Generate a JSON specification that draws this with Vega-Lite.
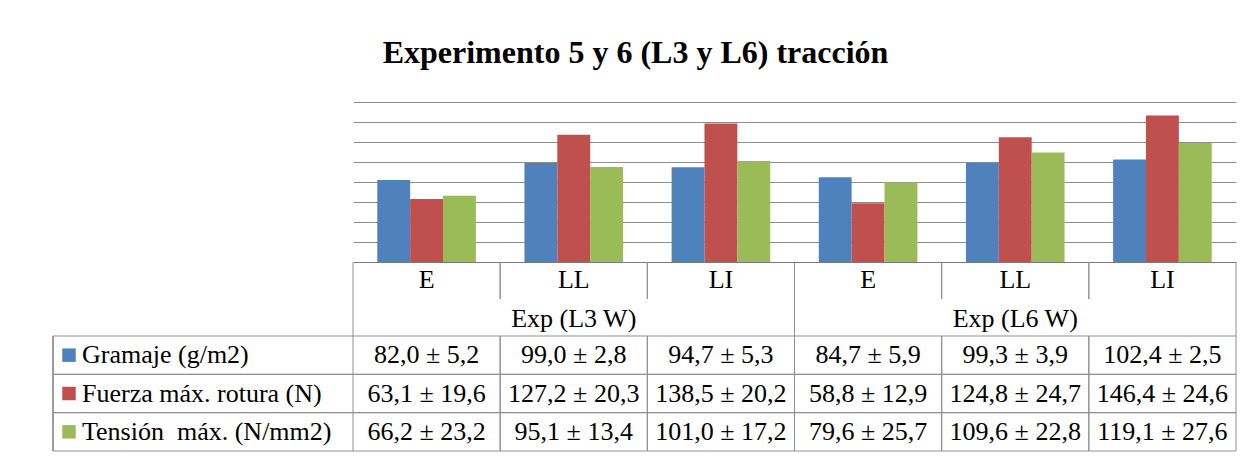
{
  "$schema": "https://vega.github.io/schema/vega-lite/v6.json",
  "background": "white",
  "padding": {"left": 52, "top": 37, "right": 20, "bottom": 4},
  "title": {
    "text": "Experimento 5 y 6 (L3 y L6) tracción",
    "font": "Liberation Serif",
    "fontSize": 32,
    "fontWeight": "bold",
    "color": "#000000",
    "anchor": "middle",
    "dx": -9,
    "offset": 32
  },
  "datasets": {
    "vals": [
      {"grupo": "Exp (L3 W)", "cat": "E", "col": "L3 W / E", "serie": "Gramaje (g/m2)", "media": 82.0, "etiqueta": "82,0 ± 5,2"},
      {"grupo": "Exp (L3 W)", "cat": "LL", "col": "L3 W / LL", "serie": "Gramaje (g/m2)", "media": 99.0, "etiqueta": "99,0 ± 2,8"},
      {"grupo": "Exp (L3 W)", "cat": "LI", "col": "L3 W / LI", "serie": "Gramaje (g/m2)", "media": 94.7, "etiqueta": "94,7 ± 5,3"},
      {"grupo": "Exp (L6 W)", "cat": "E", "col": "L6 W / E", "serie": "Gramaje (g/m2)", "media": 84.7, "etiqueta": "84,7 ± 5,9"},
      {"grupo": "Exp (L6 W)", "cat": "LL", "col": "L6 W / LL", "serie": "Gramaje (g/m2)", "media": 99.3, "etiqueta": "99,3 ± 3,9"},
      {"grupo": "Exp (L6 W)", "cat": "LI", "col": "L6 W / LI", "serie": "Gramaje (g/m2)", "media": 102.4, "etiqueta": "102,4 ± 2,5"},
      {"grupo": "Exp (L3 W)", "cat": "E", "col": "L3 W / E", "serie": "Fuerza máx. rotura (N)", "media": 63.1, "etiqueta": "63,1 ± 19,6"},
      {"grupo": "Exp (L3 W)", "cat": "LL", "col": "L3 W / LL", "serie": "Fuerza máx. rotura (N)", "media": 127.2, "etiqueta": "127,2 ± 20,3"},
      {"grupo": "Exp (L3 W)", "cat": "LI", "col": "L3 W / LI", "serie": "Fuerza máx. rotura (N)", "media": 138.5, "etiqueta": "138,5 ± 20,2"},
      {"grupo": "Exp (L6 W)", "cat": "E", "col": "L6 W / E", "serie": "Fuerza máx. rotura (N)", "media": 58.8, "etiqueta": "58,8 ± 12,9"},
      {"grupo": "Exp (L6 W)", "cat": "LL", "col": "L6 W / LL", "serie": "Fuerza máx. rotura (N)", "media": 124.8, "etiqueta": "124,8 ± 24,7"},
      {"grupo": "Exp (L6 W)", "cat": "LI", "col": "L6 W / LI", "serie": "Fuerza máx. rotura (N)", "media": 146.4, "etiqueta": "146,4 ± 24,6"},
      {"grupo": "Exp (L3 W)", "cat": "E", "col": "L3 W / E", "serie": "Tensión\u00a0 máx. (N/mm2)", "media": 66.2, "etiqueta": "66,2 ± 23,2"},
      {"grupo": "Exp (L3 W)", "cat": "LL", "col": "L3 W / LL", "serie": "Tensión\u00a0 máx. (N/mm2)", "media": 95.1, "etiqueta": "95,1 ± 13,4"},
      {"grupo": "Exp (L3 W)", "cat": "LI", "col": "L3 W / LI", "serie": "Tensión\u00a0 máx. (N/mm2)", "media": 101.0, "etiqueta": "101,0 ± 17,2"},
      {"grupo": "Exp (L6 W)", "cat": "E", "col": "L6 W / E", "serie": "Tensión\u00a0 máx. (N/mm2)", "media": 79.6, "etiqueta": "79,6 ± 25,7"},
      {"grupo": "Exp (L6 W)", "cat": "LL", "col": "L6 W / LL", "serie": "Tensión\u00a0 máx. (N/mm2)", "media": 109.6, "etiqueta": "109,6 ± 22,8"},
      {"grupo": "Exp (L6 W)", "cat": "LI", "col": "L6 W / LI", "serie": "Tensión\u00a0 máx. (N/mm2)", "media": 119.1, "etiqueta": "119,1 ± 27,6"}
    ]
  },
  "columns": 2,
  "spacing": 0,
  "bounds": "flush",
  "concat": [
    {
      "width": 300,
      "height": 160,
      "data": {"values": [{}]},
      "mark": {"type": "text", "text": ""}
    },
    {
      "width": 883,
      "height": 160,
      "data": {"name": "vals"},
      "mark": {"type": "bar"},
      "encoding": {
        "x": {"field": "col", "type": "nominal", "sort": null, "scale": {"paddingInner": 0.33, "paddingOuter": 0.165},
          "axis": {"labels": false, "ticks": false, "domain": true, "domainColor": "#7a7a7a", "domainWidth": 1, "title": null, "grid": false, "minExtent": 0, "maxExtent": 0}},
        "xOffset": {"field": "serie", "type": "nominal", "sort": ["Gramaje (g/m2)", "Fuerza máx. rotura (N)", "Tensión\u00a0 máx. (N/mm2)"], "scale": {"paddingInner": 0, "paddingOuter": 0}},
        "y": {"field": "media", "type": "quantitative", "scale": {"domain": [0, 160], "nice": false},
          "axis": {"values": [20, 40, 60, 80, 100, 120, 140, 160], "labels": false, "ticks": false, "domain": false, "grid": true, "gridColor": "#8e8e8e", "gridWidth": 1, "title": null, "minExtent": 0, "maxExtent": 0}},
        "color": {"field": "serie", "type": "nominal", "scale": {"domain": ["Gramaje (g/m2)", "Fuerza máx. rotura (N)", "Tensión\u00a0 máx. (N/mm2)"], "range": ["#4F81BD", "#C0504D", "#9BBB59"]}, "legend": null}
      }
    },
    {
      "width": 300,
      "height": 37,
      "data": {"values": [{}]},
      "mark": {"type": "text", "text": ""}
    },
    {
      "width": 883,
      "height": 37,
      "data": {"name": "vals"},
      "transform": [{"filter": "datum.serie == 'Gramaje (g/m2)'"}],
      "layer": [
        {
          "mark": {"type": "rule", "color": "#8e8e8e", "strokeWidth": 1},
          "encoding": {"x": {"field": "col", "type": "nominal", "sort": null, "bandPosition": 0, "scale": {"paddingInner": 0, "paddingOuter": 0}, "axis": null}}
        },
        {
          "mark": {"type": "rule", "color": "#8e8e8e", "strokeWidth": 1},
          "encoding": {"x": {"field": "col", "type": "nominal", "sort": null, "bandPosition": 1, "scale": {"paddingInner": 0, "paddingOuter": 0}, "axis": null}}
        },
        {
          "mark": {"type": "text", "fontSize": 26, "font": "Liberation Serif", "color": "#000000", "dy": -1},
          "encoding": {
            "x": {"field": "col", "type": "nominal", "sort": null, "scale": {"paddingInner": 0, "paddingOuter": 0}, "axis": null},
            "text": {"field": "cat"}
          }
        }
      ]
    },
    {
      "width": 300,
      "height": 37,
      "data": {"values": [{}]},
      "mark": {"type": "text", "text": ""}
    },
    {
      "width": 883,
      "height": 37,
      "data": {"name": "vals"},
      "transform": [{"filter": "datum.serie == 'Gramaje (g/m2)' && datum.cat == 'E'"}],
      "layer": [
        {
          "mark": {"type": "rule", "color": "#8e8e8e", "strokeWidth": 1},
          "encoding": {"x": {"field": "grupo", "type": "nominal", "sort": null, "bandPosition": 0, "scale": {"paddingInner": 0, "paddingOuter": 0}, "axis": null}}
        },
        {
          "mark": {"type": "rule", "color": "#8e8e8e", "strokeWidth": 1},
          "encoding": {"x": {"field": "grupo", "type": "nominal", "sort": null, "bandPosition": 1, "scale": {"paddingInner": 0, "paddingOuter": 0}, "axis": null}}
        },
        {
          "mark": {"type": "text", "fontSize": 26, "font": "Liberation Serif", "color": "#000000", "dy": 1},
          "encoding": {
            "x": {"field": "grupo", "type": "nominal", "sort": null, "scale": {"paddingInner": 0, "paddingOuter": 0}, "axis": null},
            "text": {"field": "grupo"}
          }
        }
      ]
    },
    {
      "width": 300,
      "height": 115,
      "data": {"name": "vals"},
      "transform": [{"filter": "datum.cat == 'E' && datum.grupo == 'Exp (L3 W)'"}],
      "layer": [
        {
          "mark": {"type": "rule", "color": "#8e8e8e", "strokeWidth": 1},
          "encoding": {
            "y": {"field": "serie", "type": "nominal", "sort": null, "bandPosition": 0, "scale": {"paddingInner": 0, "paddingOuter": 0}, "axis": null}
          }
        },
        {
          "mark": {"type": "rule", "color": "#8e8e8e", "strokeWidth": 1},
          "encoding": {
            "y": {"field": "serie", "type": "nominal", "sort": null, "bandPosition": 1, "scale": {"paddingInner": 0, "paddingOuter": 0}, "axis": null}
          }
        },
        {
          "mark": {"type": "rule", "color": "#8e8e8e", "strokeWidth": 1},
          "encoding": {
            "x": {"field": "grupo", "type": "nominal", "bandPosition": 0, "scale": {"paddingInner": 0, "paddingOuter": 0}, "axis": null}
          }
        },
        {
          "mark": {"type": "square", "size": 182, "opacity": 1, "filled": true, "xOffset": -134},
          "encoding": {
            "y": {"field": "serie", "type": "nominal", "sort": null, "scale": {"paddingInner": 0, "paddingOuter": 0}, "axis": null},
            "color": {"field": "serie", "type": "nominal", "scale": {"domain": ["Gramaje (g/m2)", "Fuerza máx. rotura (N)", "Tensión\u00a0 máx. (N/mm2)"], "range": ["#4F81BD", "#C0504D", "#9BBB59"]}, "legend": null}
          }
        },
        {
          "mark": {"type": "text", "align": "left", "dx": -121, "dy": 0, "fontSize": 26, "font": "Liberation Serif", "color": "#000000"},
          "encoding": {
            "y": {"field": "serie", "type": "nominal", "sort": null, "scale": {"paddingInner": 0, "paddingOuter": 0}, "axis": null},
            "text": {"field": "serie"}
          }
        }
      ]
    },
    {
      "width": 883,
      "height": 115,
      "data": {"name": "vals"},
      "layer": [
        {
          "transform": [{"filter": "datum.serie == 'Gramaje (g/m2)'"}],
          "mark": {"type": "rule", "color": "#8e8e8e", "strokeWidth": 1},
          "encoding": {"x": {"field": "col", "type": "nominal", "sort": null, "bandPosition": 0, "scale": {"paddingInner": 0, "paddingOuter": 0}, "axis": null}}
        },
        {
          "transform": [{"filter": "datum.serie == 'Gramaje (g/m2)'"}],
          "mark": {"type": "rule", "color": "#8e8e8e", "strokeWidth": 1},
          "encoding": {"x": {"field": "col", "type": "nominal", "sort": null, "bandPosition": 1, "scale": {"paddingInner": 0, "paddingOuter": 0}, "axis": null}}
        },
        {
          "transform": [{"filter": "datum.col == 'L3 W / E'"}],
          "mark": {"type": "rule", "color": "#8e8e8e", "strokeWidth": 1},
          "encoding": {"y": {"field": "serie", "type": "nominal", "sort": null, "bandPosition": 0, "scale": {"paddingInner": 0, "paddingOuter": 0}, "axis": null}}
        },
        {
          "transform": [{"filter": "datum.col == 'L3 W / E'"}],
          "mark": {"type": "rule", "color": "#8e8e8e", "strokeWidth": 1},
          "encoding": {"y": {"field": "serie", "type": "nominal", "sort": null, "bandPosition": 1, "scale": {"paddingInner": 0, "paddingOuter": 0}, "axis": null}}
        },
        {
          "mark": {"type": "text", "fontSize": 26, "font": "Liberation Serif", "color": "#000000", "dy": 0},
          "encoding": {
            "x": {"field": "col", "type": "nominal", "sort": null, "scale": {"paddingInner": 0, "paddingOuter": 0}, "axis": null},
            "y": {"field": "serie", "type": "nominal", "sort": null, "scale": {"paddingInner": 0, "paddingOuter": 0}, "axis": null},
            "text": {"field": "etiqueta"}
          }
        }
      ]
    }
  ],
  "config": {
    "view": {"stroke": null},
    "font": "Liberation Serif"
  }
}
